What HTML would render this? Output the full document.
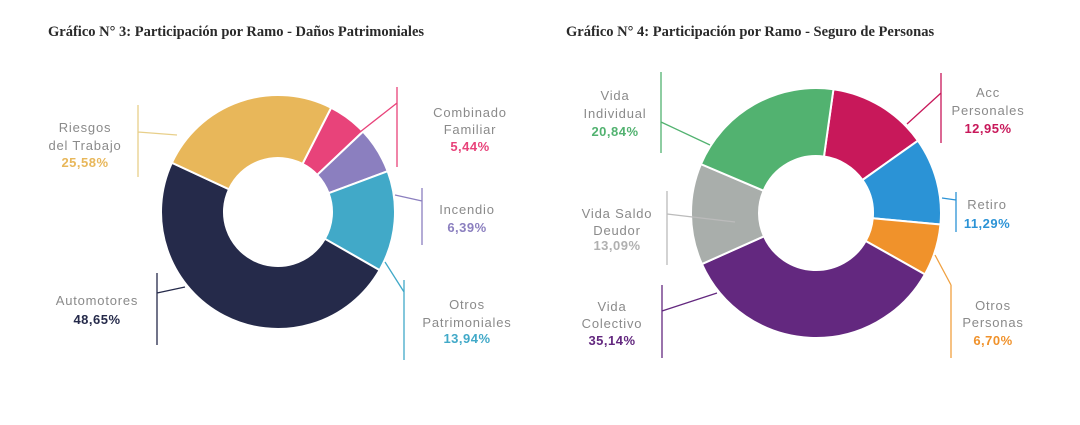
<!DOCTYPE html>
<html><head><meta charset="utf-8"><style>
body{margin:0;background:#fff}
svg text{font-family:"Liberation Sans",sans-serif;font-size:13px;fill:#8a8a8a;text-anchor:middle;letter-spacing:0.8px}
svg text.b{font-weight:bold;letter-spacing:0.5px}
svg text.t{font-family:"Liberation Serif",serif;font-weight:bold;font-size:14.5px;fill:#2a2a2a;text-anchor:start;letter-spacing:0}
</style></head><body>
<svg id="s" width="1080" height="420" viewBox="0 0 1080 420" xmlns="http://www.w3.org/2000/svg">
<text class="t" x="48" y="36">Gráfico N° 3: Participación por Ramo - Daños Patrimoniales</text>
<text class="t" x="566" y="36">Gráfico N° 4: Participación por Ramo - Seguro de Personas</text>
<g id="g"></g>
<g stroke-width="1.3" fill="none">
<path d="M138 105V177M138 132L177 135" stroke="#e8cf8a"/>
<path d="M397 87V167M397 103L360 132" stroke="#e8437a"/>
<path d="M422 188V245M422 201L395 195" stroke="#8b7fbf"/>
<path d="M404 280V360M404 292L385 262" stroke="#41a9c8"/>
<path d="M157 273V345M157 293L185 287" stroke="#252a4a"/>
<path d="M661 72V153M661 122L710 145" stroke="#52b270"/>
<path d="M667 191V265M667 214L735 222" stroke="#bbbbbb"/>
<path d="M662 285V358M662 311L717 293" stroke="#63287f"/>
<path d="M941 73V143M941 93L907 124" stroke="#c8185a"/>
<path d="M956 192V232M956 200L942 198" stroke="#2b93d6"/>
<path d="M951 285V358M951 285L935 255" stroke="#f0a040"/>
</g>
<text x="85" y="132">Riesgos</text><text x="85" y="150">del Trabajo</text><text class="b" x="85" y="167" style="fill:#e8b75a">25,58%</text>
<text x="470" y="117">Combinado</text><text x="470" y="134">Familiar</text><text class="b" x="470" y="151" style="fill:#e8437a">5,44%</text>
<text x="467" y="214">Incendio</text><text class="b" x="467" y="232" style="fill:#8b7fbf">6,39%</text>
<text x="467" y="309">Otros</text><text x="467" y="327">Patrimoniales</text><text class="b" x="467" y="343" style="fill:#41a9c8">13,94%</text>
<text x="97" y="305">Automotores</text><text class="b" x="97" y="324" style="fill:#252a4a">48,65%</text>
<text x="615" y="100">Vida</text><text x="615" y="118">Individual</text><text class="b" x="615" y="136" style="fill:#52b270">20,84%</text>
<text x="617" y="218">Vida Saldo</text><text x="617" y="235">Deudor</text><text class="b" x="617" y="250" style="fill:#b0b0b0">13,09%</text>
<text x="612" y="311">Vida</text><text x="612" y="328">Colectivo</text><text class="b" x="612" y="345" style="fill:#63287f">35,14%</text>
<text x="988" y="97">Acc</text><text x="988" y="115">Personales</text><text class="b" x="988" y="133" style="fill:#c8185a">12,95%</text>
<text x="987" y="209">Retiro</text><text class="b" x="987" y="228" style="fill:#2b93d6">11,29%</text>
<text x="993" y="310">Otros</text><text x="993" y="327">Personas</text><text class="b" x="993" y="345" style="fill:#f0922b">6,70%</text>
</svg>
<script>
function donut(cx,cy,R,r,start,data){
 var g=document.getElementById('g'),a=start*Math.PI/180,h='';
 data.forEach(function(d){
  var b=a+d[0]/100*2*Math.PI,l=(b-a)>Math.PI?1:0;
  function p(rad,t){return (cx+rad*Math.sin(t)).toFixed(2)+' '+(cy-rad*Math.cos(t)).toFixed(2);}
  h+='<path d="M'+p(R,a)+'A'+R+' '+R+' 0 '+l+' 1 '+p(R,b)+'L'+p(r,b)+'A'+r+' '+r+' 0 '+l+' 0 '+p(r,a)+'Z" fill="'+d[1]+'" stroke="#fff" stroke-width="2"/>';
  a=b;});
 g.innerHTML+=h;
}
donut(278,212,117,54,27,[[5.44,'#e8437a'],[6.39,'#8b7fbf'],[13.94,'#41a9c8'],[48.65,'#252a4a'],[25.58,'#e8b75a']]);
donut(816,213,125,57,8,[[12.95,'#c8185a'],[11.29,'#2b93d6'],[6.70,'#f0922b'],[35.14,'#63287f'],[13.09,'#a9aeab'],[20.84,'#52b270']]);
</script>
</body></html>
